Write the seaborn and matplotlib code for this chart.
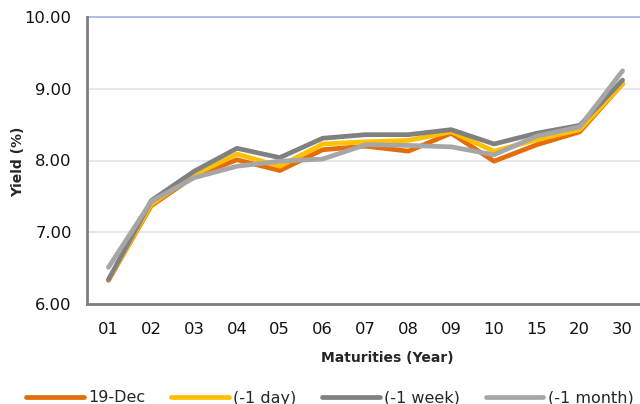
import pandas as pd
import seaborn as sns
from matplotlib import pyplot as plt

maturities = ['01', '02', '03', '04', '05', '06', '07', '08', '09', '10', '15', '20', '30']
dec19 = [6.33, 7.37, 7.78, 8.01, 7.86, 8.15, 8.20, 8.13, 8.38, 7.99, 8.22, 8.40, 9.07]
day1 = [6.33, 7.39, 7.80, 8.09, 7.92, 8.23, 8.26, 8.28, 8.40, 8.13, 8.29, 8.43, 9.07]
week1 = [6.34, 7.44, 7.85, 8.17, 8.04, 8.31, 8.36, 8.36, 8.43, 8.23, 8.38, 8.49, 9.12]
month1 = [6.51, 7.43, 7.76, 7.92, 7.99, 8.02, 8.22, 8.21, 8.19, 8.08, 8.34, 8.47, 9.25]
series_names = ['19-Dec', '(-1 day)', '(-1 week)', '(-1 month)']
colors = ['#E46C0A', '#FFC000', '#808080', '#A6A6A6']

frames = []
for name, vals in zip(series_names, [dec19, day1, week1, month1]):
    frames.append(pd.DataFrame({'Maturity': maturities, 'Yield': vals, 'Series': name}))
df = pd.concat(frames, ignore_index=True)

sns.set_style('white')
plt.rcParams['font.family'] = ['DejaVu Sans']

fig = plt.figure(figsize=(6.4, 4.04), dpi=100)
ax = fig.add_axes([87 / 640, 100 / 404, 557 / 640, 287 / 404])

sns.lineplot(data=df, x='Maturity', y='Yield', hue='Series', hue_order=series_names,
             palette=colors, linewidth=3.4, ax=ax, legend=True, sort=False)

ax.set_xlim(-0.5, 12.5)
ax.set_ylim(6, 10)
ax.set_yticks([6, 7, 8, 9, 10])
ax.set_yticklabels(['6.00', '7.00', '8.00', '9.00', '10.00'])
ax.tick_params(axis='both', length=0, labelsize=11.8, colors='#111111')
ax.tick_params(axis='x', pad=13)
ax.tick_params(axis='y', pad=11)
for y in [7, 8, 9]:
    ax.axhline(y, color='#DCE2EA', linewidth=1.1, zorder=0)
ax.axhline(10, color='#9DB4DE', linewidth=1.2, zorder=0, clip_on=False)

for s in ['top', 'right']:
    ax.spines[s].set_visible(False)
for s in ['left', 'bottom']:
    ax.spines[s].set_color('#7F7F7F')
    ax.spines[s].set_linewidth(2)

ax.set_xlabel('')
ax.set_ylabel('')
fig.text(387 / 640, 1 - 358 / 404, 'Maturities (Year)', ha='center', va='center',
         fontsize=10, fontweight='bold')
fig.text(18 / 640, 1 - 162 / 404, 'Yield (%)', ha='center', va='center',
         rotation=90, fontsize=10, fontweight='bold')

handles, labels = ax.get_legend_handles_labels()
ax.get_legend().remove()
fig.legend(handles, labels, loc='center', bbox_to_anchor=(330 / 640, 1 - 398 / 404), ncol=4,
           frameon=False, fontsize=11.5, handlelength=3.6, columnspacing=1.6, handletextpad=0.3)

fig.savefig('out.png', dpi=100)
